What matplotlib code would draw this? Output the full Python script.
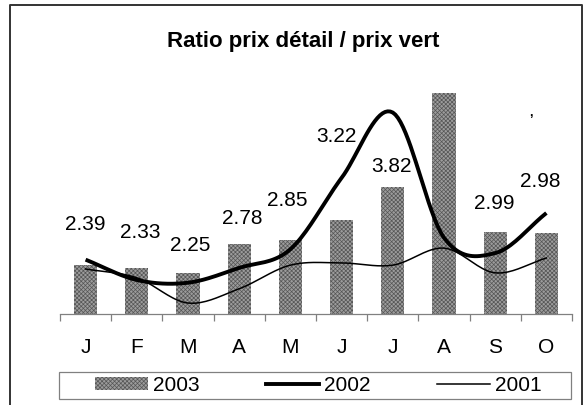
import numpy as np
import matplotlib
matplotlib.use("Agg")
import matplotlib.pyplot as plt
from matplotlib.lines import Line2D
from matplotlib.patches import Patch, Rectangle

plt.rcParams['font.family'] = ['Liberation Sans', 'DejaVu Sans']
plt.rcParams['hatch.linewidth'] = 0.5

# data
months = ['J', 'F', 'M', 'A', 'M', 'J', 'J', 'A', 'S', 'O']
ratio_2003 = [2.39, 2.33, 2.25, 2.78, 2.85, 3.22, 3.82, 5.53, 2.99, 2.98]
labels_2003 = ['2.39', '2.33', '2.25', '2.78', '2.85', '3.22', '3.82', '', '2.99', '2.98']
ratio_2002 = [2.49, 2.12, 2.07, 2.34, 2.68, 3.98, 5.17, 2.89, 2.61, 3.34]
ratio_2001 = [2.32, 2.16, 1.70, 1.96, 2.39, 2.43, 2.39, 2.70, 2.25, 2.52]

# where each value label sits relative to its bar top (pixels)
label_dx = [0, 3, 2, 3, -3, -5, -1, 0, -1, -6]
label_dy = [41, 36, 27, 25, 39, 83, 20, 0, 29, 51]

BAR_FACE = '#9c9c9c'
BAR_HATCH = '#555555'
BAR_PATTERN = 'xxxxxxxx'


def smooth(y, n=20):
    # catmull-rom curve through the points, like excel's smoothed line
    y = np.asarray(y, dtype=float)
    p = np.concatenate([[2 * y[0] - y[1]], y, [2 * y[-1] - y[-2]]])
    xs, ys = [], []
    for i in range(len(y) - 1):
        t = np.linspace(0, 1, n, endpoint=False)
        p0, p1, p2, p3 = p[i], p[i + 1], p[i + 2], p[i + 3]
        yy = 0.5 * ((2 * p1) + (-p0 + p2) * t + (2 * p0 - 5 * p1 + 4 * p2 - p3) * t ** 2
                    + (-p0 + 3 * p1 - 3 * p2 + p3) * t ** 3)
        xs.extend(i + t)
        ys.extend(yy)
    xs.append(len(y) - 1)
    ys.append(y[-1])
    return np.array(xs), np.array(ys)


W, H = 586, 405
fig = plt.figure(figsize=(W / 100, H / 100), dpi=100)
ax = fig.add_axes([60 / W, (H - 314) / H, 512 / W, (314 - 67) / H])

x = np.arange(len(months))
ax.bar(x, np.array(ratio_2003) - 1.5, bottom=1.5, width=0.45,
       color=BAR_FACE, edgecolor=BAR_HATCH, hatch=BAR_PATTERN, linewidth=0, zorder=2)

sx, sy = smooth(ratio_2002)
ax.plot(sx, sy, color='black', lw=2.8, solid_capstyle='butt', zorder=3)
sx, sy = smooth(ratio_2001)
ax.plot(sx, sy, color='black', lw=1.1, zorder=3)

for i, lab in enumerate(labels_2003):
    if lab:
        ax.annotate(lab, (x[i], ratio_2003[i]), textcoords='offset pixels',
                    xytext=(label_dx[i], label_dy[i]), ha='center', va='center',
                    fontsize=15, zorder=4)

ax.set_xlim(-0.5, len(months) - 0.5)
ax.set_ylim(1.5, 6)
ax.set_yticks([])
for s in ['top', 'right', 'left']:
    ax.spines[s].set_visible(False)
ax.spines['bottom'].set_color('#808080')
ax.spines['bottom'].set_linewidth(0.9)
ax.set_xticks(x)
ax.set_xticklabels(months, fontsize=15)
ax.tick_params(axis='x', which='major', length=0, pad=17)
ax.set_xticks(np.arange(-0.5, len(months)), minor=True)
ax.tick_params(axis='x', which='minor', length=5, color='#808080', width=0.9, direction='out')
ax.patch.set_alpha(0)

fig.text(303 / W, 1 - 41 / H, 'Ratio prix détail / prix vert', ha='center', va='center',
         fontsize=16, fontweight='bold')
fig.text(531 / W, 1 - 113 / H, ',', ha='center', va='center', fontsize=9, fontweight='bold')

# outer frame (bottom edge runs off the picture)
fig.add_artist(Line2D([10 / W, 10 / W, 582 / W, 582 / W], [0, 1 - 5 / H, 1 - 5 / H, 0],
                      transform=fig.transFigure, color='#333333', lw=1.4))

# legend box, entries spread across it
fig.add_artist(Rectangle((59 / W, (H - 399) / H), 512 / W, 27 / H, transform=fig.transFigure,
                         facecolor='none', edgecolor='#808080', lw=0.9))
handles = [Patch(facecolor=BAR_FACE, edgecolor=BAR_HATCH, hatch=BAR_PATTERN, linewidth=0),
           Line2D([], [], color='black', lw=2.8),
           Line2D([], [], color='black', lw=1.1)]
fig.legend(handles, ['2003', '2002', '2001'], loc='center', ncol=3, mode='expand',
           bbox_to_anchor=(95 / W, (H - 399) / H, 447 / W, 27 / H),
           fontsize=15, frameon=False, borderpad=0, borderaxespad=0,
           handlelength=2.55, handletextpad=0.25, handleheight=0.6)

fig.savefig('out.png', dpi=100)
